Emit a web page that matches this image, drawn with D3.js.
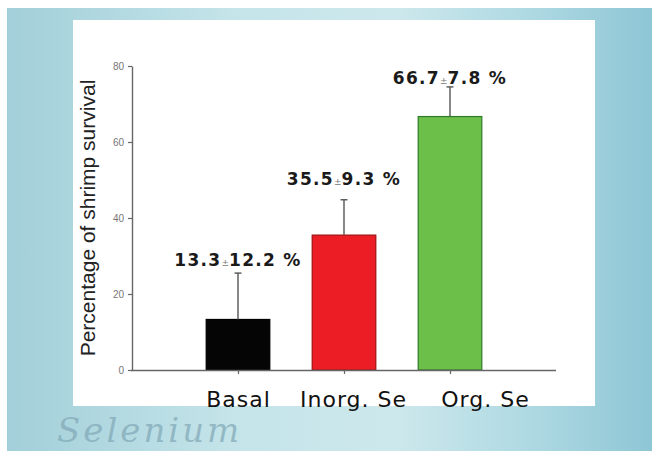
<!DOCTYPE html>
<html><head><meta charset="utf-8">
<script src="https://cdn.jsdelivr.net/npm/d3@7"></script>
<style>html,body{margin:0;padding:0;background:#fff;}svg{display:block;}</style>
</head><body>
<svg id="c" width="656" height="452"></svg>
<script>
const categories = ["Basal", "Inorg. Se", "Org. Se"];
const means = [13.3, 35.5, 66.7];
const errors = [12.2, 9.3, 7.8];
const meanLabels = ["13.3", "35.5", "66.7"];
const errorLabels = ["12.2", "9.3", "7.8"];
const yTicks = [0, 20, 40, 60, 80];
const yTitle = "Percentage of shrimp survival";
const watermark = "Selenium";

const fills = ["#050505", "#ec1d25", "#6cc04a"];
const strokes = ["#000", "#a01010", "#2f7a2a"];
const labelDy = [-7, -15, -3];
const catDx = [0, 9, 35];

const svg = d3.select("#c");
const defs = svg.append("defs");
const g = defs.append("linearGradient").attr("id", "bg").attr("x1", 0).attr("x2", 1).attr("y1", 0).attr("y2", 0);
[[0, "#a2cfd9"], [0.35, "#c4e4e9"], [0.6, "#cde8ec"], [0.8, "#b0dae3"], [1, "#8ec6d5"]]
  .forEach(([o, c]) => g.append("stop").attr("offset", o).attr("stop-color", c));

svg.append("rect").attr("x", 7).attr("y", 8).attr("width", 645).attr("height", 443).attr("fill", "url(#bg)");
svg.append("text").attr("x", 57).attr("y", 442)
  .attr("font-family", "DejaVu Serif").attr("font-style", "italic").attr("font-size", 34)
  .attr("letter-spacing", 3)
  .attr("fill", "#7fa6b5").attr("fill-opacity", 0.7).text(watermark);
svg.append("rect").attr("x", 73).attr("y", 20).attr("width", 522).attr("height", 386).attr("fill", "#fff");

const x = d3.scalePoint().domain(categories).range([132, 556]).padding(1);
const y = d3.scaleLinear().domain([0, 80]).range([370, 66]);
const barW = x.step() * 0.6;

const data = categories.map((c, i) => ({c, i, m: means[i], e: errors[i]}));

// bars
svg.append("g").selectAll("rect").data(data).join("rect")
  .attr("x", d => x(d.c) - barW / 2)
  .attr("y", d => y(d.m))
  .attr("width", barW)
  .attr("height", d => y(0) - y(d.m))
  .attr("fill", d => fills[d.i])
  .attr("stroke", d => strokes[d.i]).attr("stroke-width", 1.2);

// error bars
const eb = svg.append("g").attr("stroke", "#555").attr("stroke-width", 1.4);
eb.selectAll("line.v").data(data).join("line").attr("class", "v")
  .attr("x1", d => x(d.c)).attr("x2", d => x(d.c))
  .attr("y1", d => y(d.m)).attr("y2", d => y(d.m + d.e));
eb.selectAll("line.h").data(data).join("line").attr("class", "h")
  .attr("x1", d => x(d.c) - 3.5).attr("x2", d => x(d.c) + 3.5)
  .attr("y1", d => y(d.m + d.e)).attr("y2", d => y(d.m + d.e));

// axes
const yAxis = svg.append("g").attr("transform", "translate(132,0)")
  .call(d3.axisLeft(y).tickValues(yTicks).tickSize(4).tickSizeOuter(0).tickPadding(4));
yAxis.select(".domain").attr("stroke", "#666").attr("stroke-width", 1.4);
yAxis.selectAll(".tick line").attr("stroke", "#666").attr("stroke-width", 1.2);
yAxis.selectAll(".tick text").attr("font-family", "Liberation Sans, Arial, sans-serif").attr("font-size", 10).attr("fill", "#777");

const xAxis = svg.append("g").attr("transform", "translate(0,370)")
  .call(d3.axisBottom(x).tickSize(4).tickSizeOuter(0).tickPadding(19));
xAxis.select(".domain").attr("stroke", "#666").attr("stroke-width", 1.4).attr("d", "M131,0.5H556");
xAxis.selectAll(".tick line").attr("stroke", "#666").attr("stroke-width", 1.2);
xAxis.selectAll(".tick text")
  .attr("font-family", "DejaVu Sans, sans-serif").attr("font-size", 22).attr("letter-spacing", 1)
  .attr("fill", "#111").attr("dy", "0")
  .attr("x", (d, i) => catDx[i]).attr("y", 37);

// y title
svg.append("text")
  .attr("transform", "translate(95,218) rotate(-90)")
  .attr("text-anchor", "middle")
  .attr("font-family", "Liberation Sans, Arial, sans-serif").attr("font-size", 21)
  .attr("fill", "#222").text(yTitle);

// value labels
const lab = svg.append("g").selectAll("text").data(data).join("text")
  .attr("x", d => x(d.c)).attr("y", d => y(d.m + d.e) + labelDy[d.i])
  .attr("text-anchor", "middle")
  .attr("font-family", "DejaVu Sans, sans-serif").attr("font-weight", "bold").attr("font-size", 17)
  .attr("letter-spacing", 1.3).attr("fill", "#1a1a1a");
lab.append("tspan").text(d => meanLabels[d.i]);
lab.append("tspan").attr("font-size", 9).attr("font-weight", "normal").attr("fill", "#777").attr("letter-spacing", 0).text("±");
lab.append("tspan").text(d => errorLabels[d.i] + " %");
</script>
</body></html>
